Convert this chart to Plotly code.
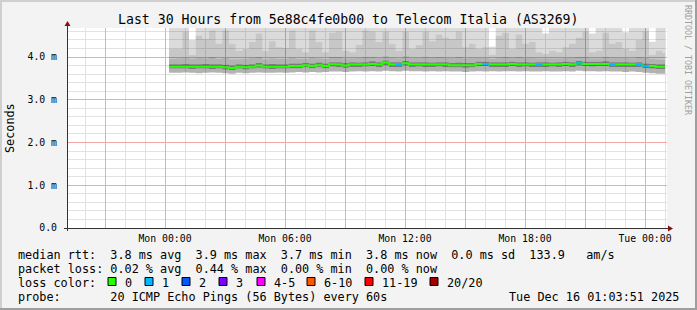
import pandas as pd
import plotly.graph_objects as go

# ---------------- data ----------------
TITLE = "Last 30 Hours from 5e88c4fe0b00 to Telecom Italia (AS3269)"
bin_start = "2025-12-15 00:12"
bin_minutes = 20
data_end = "2025-12-16 01:00"

median_ms = [3.776, 3.776, 3.776, 3.776, 3.776, 3.776, 3.776, 3.776, 3.760, 3.745,
             3.776, 3.760, 3.776, 3.800, 3.776, 3.776, 3.776, 3.776, 3.792, 3.792,
             3.808, 3.792, 3.808, 3.792, 3.830, 3.823, 3.800, 3.823, 3.823, 3.823,
             3.839, 3.823, 3.870, 3.823, 3.823, 3.854, 3.823, 3.823, 3.823, 3.823,
             3.823, 3.823, 3.808, 3.808, 3.808, 3.808, 3.839, 3.839, 3.823, 3.823,
             3.823, 3.839, 3.823, 3.823, 3.823, 3.823, 3.823, 3.823, 3.823, 3.839,
             3.823, 3.854, 3.839, 3.839, 3.839, 3.839, 3.823, 3.823, 3.823, 3.823,
             3.823, 3.792, 3.792, 3.776, 3.776]

loss_pings = [0, 0, 0, 0, 0, 0, 0, 0, 0, 0,
              0, 0, 0, 0, 0, 0, 0, 0, 0, 0,
              0, 0, 0, 0, 0, 0, 0, 0, 0, 0,
              0, 0, 0, 0, 1, 0, 0, 0, 0, 0,
              0, 0, 0, 0, 0, 0, 0, 1, 0, 0,
              0, 0, 0, 0, 0, 1, 0, 0, 0, 0,
              0, 1, 0, 0, 0, 0, 1, 0, 0, 0,
              1, 1, 0, 0, 0]

ping_min = [3.63, 3.63, 3.64, 3.63, 3.62, 3.63, 3.64, 3.63, 3.62, 3.61,
            3.63, 3.62, 3.63, 3.64, 3.63, 3.63, 3.64, 3.63, 3.64, 3.65,
            3.64, 3.65, 3.64, 3.65, 3.66, 3.66, 3.65, 3.66, 3.67, 3.66,
            3.67, 3.66, 3.68, 3.67, 3.66, 3.68, 3.67, 3.67, 3.66, 3.67,
            3.66, 3.67, 3.66, 3.66, 3.65, 3.66, 3.67, 3.66, 3.67, 3.66,
            3.67, 3.67, 3.66, 3.67, 3.66, 3.66, 3.67, 3.66, 3.66, 3.67,
            3.66, 3.68, 3.67, 3.67, 3.66, 3.67, 3.66, 3.66, 3.65, 3.66,
            3.65, 3.63, 3.62, 3.61, 3.61]

ping_dark_lo = [3.73, 3.73, 3.73, 3.72, 3.73, 3.73, 3.72, 3.73, 3.71, 3.70,
                3.73, 3.71, 3.73, 3.75, 3.73, 3.72, 3.73, 3.73, 3.74, 3.74,
                3.76, 3.74, 3.76, 3.74, 3.78, 3.77, 3.75, 3.77, 3.77, 3.78,
                3.79, 3.77, 3.81, 3.77, 3.77, 3.80, 3.77, 3.78, 3.77, 3.77,
                3.78, 3.77, 3.76, 3.76, 3.75, 3.76, 3.79, 3.79, 3.77, 3.77,
                3.77, 3.79, 3.77, 3.78, 3.77, 3.77, 3.77, 3.78, 3.77, 3.79,
                3.77, 3.80, 3.79, 3.78, 3.79, 3.79, 3.77, 3.77, 3.77, 3.77,
                3.77, 3.74, 3.73, 3.72, 3.72]

ping_dark_hi = [3.83, 3.83, 3.84, 3.83, 3.83, 3.84, 3.83, 3.83, 3.82, 3.80,
                3.83, 3.82, 3.83, 3.86, 3.83, 3.84, 3.83, 3.83, 3.85, 3.85,
                3.86, 3.85, 3.87, 3.85, 3.88, 3.88, 3.86, 3.88, 3.87, 3.88,
                3.90, 3.88, 3.92, 3.88, 3.88, 3.91, 3.88, 3.88, 3.88, 3.87,
                3.88, 3.88, 3.86, 3.87, 3.86, 3.86, 3.89, 3.89, 3.88, 3.88,
                3.88, 3.89, 3.88, 3.88, 3.87, 3.88, 3.88, 3.87, 3.88, 3.89,
                3.88, 3.91, 3.89, 3.89, 3.89, 3.90, 3.88, 3.88, 3.88, 3.87,
                3.88, 3.85, 3.84, 3.83, 3.83]

ping_p75 = [3.96, 3.97, 3.99, 3.96, 3.98, 3.97, 4.00, 3.96, 3.98, 3.95,
            3.95, 3.96, 3.98, 4.00, 3.95, 3.97, 3.96, 3.96, 3.99, 3.96,
            3.96, 3.99, 3.97, 3.96, 4.00, 4.00, 3.97, 3.97, 3.98, 4.01,
            4.01, 3.98, 4.02, 3.99, 3.97, 4.02, 3.98, 3.98, 4.01, 3.99,
            4.00, 3.99, 3.98, 4.00, 3.97, 3.98, 3.98, 3.98, 3.96, 3.99,
            4.00, 3.98, 4.00, 3.98, 3.98, 3.97, 3.97, 3.97, 3.97, 3.98,
            3.99, 4.00, 4.01, 3.97, 3.97, 4.00, 3.98, 3.98, 3.98, 3.97,
            4.00, 3.99, 3.96, 3.95, 3.94]

ping_p90 = [4.19, 4.19, 4.60, 4.05, 4.50, 4.42, 4.62, 4.31, 4.62, 4.31,
            4.15, 4.19, 4.35, 4.55, 4.15, 4.37, 4.23, 4.21, 4.62, 4.19,
            4.11, 4.62, 4.35, 4.11, 4.57, 4.60, 4.15, 4.11, 4.28, 4.62,
            4.60, 4.35, 4.60, 4.31, 4.15, 4.60, 4.19, 4.28, 4.60, 4.37,
            4.53, 4.45, 4.42, 4.60, 4.23, 4.31, 4.19, 4.23, 4.05, 4.50,
            4.57, 4.19, 4.53, 4.31, 4.35, 4.11, 4.08, 4.15, 4.11, 4.23,
            4.31, 4.45, 4.60, 4.11, 4.15, 4.57, 4.31, 4.35, 4.20, 4.15,
            4.40, 4.60, 4.05, 4.15, 4.10]

ping_max = [4.90, 4.90, 4.90, 4.40, 4.90, 4.90, 4.90, 4.90, 4.90, 4.90,
            4.90, 4.90, 4.90, 4.90, 4.90, 4.90, 4.90, 4.90, 4.90, 4.90,
            4.90, 4.90, 4.90, 4.90, 4.90, 4.90, 4.90, 4.90, 4.90, 4.90,
            4.90, 4.90, 4.90, 4.90, 4.90, 4.90, 4.90, 4.90, 4.90, 4.90,
            4.90, 4.90, 4.90, 4.90, 4.90, 4.90, 4.90, 4.90, 4.24, 4.90,
            4.90, 4.90, 4.90, 4.90, 4.90, 4.90, 4.55, 4.90, 4.90, 4.90,
            4.90, 4.90, 4.90, 4.55, 4.90, 4.90, 4.90, 4.90, 4.58, 4.90,
            4.90, 4.90, 4.36, 4.90, 4.90]

y_tick_vals = [0, 1, 2, 3, 4]
y_tick_text = ["0.0", "1.0 m", "2.0 m", "3.0 m", "4.0 m"]
y_minor_vals = [0.2, 0.4, 0.6, 0.8, 1.2, 1.4, 1.6, 1.8, 2.2, 2.4, 2.6, 2.8,
                3.2, 3.4, 3.6, 3.8, 4.2, 4.4, 4.6]
x_tick_vals = ["2025-12-14 21:00", "2025-12-15 00:00", "2025-12-15 03:00",
               "2025-12-15 06:00", "2025-12-15 09:00", "2025-12-15 12:00",
               "2025-12-15 15:00", "2025-12-15 18:00", "2025-12-15 21:00",
               "2025-12-16 00:00"]
x_tick_text = ["", "Mon 00:00", "", "Mon 06:00", "", "Mon 12:00", "",
               "Mon 18:00", "", "Tue 00:00"]

loss_labels = ["0", "1", "2", "3", "4-5", "6-10", "11-19", "20/20"]
loss_colors = ["#26ff00", "#00b8ff", "#0059ff", "#7e00ff", "#ff00ff",
               "#ff5500", "#ff0000", "#a10000"]

legend_rows = [
    "median rtt:  3.8 ms avg  3.9 ms max  3.7 ms min  3.8 ms now  0.0 ms sd  133.9   am/s",
    "packet loss: 0.02 % avg  0.44 % max  0.00 % min  0.00 % now",
    "loss color:",
    "probe:       20 ICMP Echo Pings (56 Bytes) every 60s",
]
timestamp_text = "Tue Dec 16 01:03:51 2025"

# ---------------- geometry ----------------
W, H = 697, 310
ML, MR, MT, MB = 67, 30, 28, 82
PW, PH = W - ML - MR, H - MT - MB
X_START = pd.Timestamp("2025-12-14 19:06")
X_END = pd.Timestamp("2025-12-16 01:06")
Y_MAX = 4.68
FONT = "DejaVu Sans Mono"


def xp(px):
    return (px - ML) / PW


def yp(py):
    return (H - MB - py) / PH


def step(v):
    return list(v) + [v[-1]]


edges = list(pd.date_range(bin_start, periods=len(median_ms), freq=f"{bin_minutes}min"))
edges.append(pd.Timestamp(data_end))

# hourly minor grid, skipping the 3-hourly major positions
x_minor_vals = [t for t in pd.date_range("2025-12-14 20:00", "2025-12-16 01:00", freq="1h")
                if t.hour % 3 != 0]

fig = go.Figure()

# smoke: non-overlapping translucent bands so the grid shows through (like rrdtool)
bands = [ping_min, ping_dark_lo, ping_dark_hi, ping_p75, ping_p90, ping_max]
band_alpha = [0.30, 0.52, 0.30, 0.22, 0.14]
fig.add_trace(go.Scatter(x=edges, y=step(bands[0]), mode="lines",
                         line=dict(width=0, shape="hv"), hoverinfo="skip", showlegend=False))
for upper, a in zip(bands[1:], band_alpha):
    fig.add_trace(go.Scatter(x=edges, y=step(upper), mode="lines",
                             line=dict(width=0, shape="hv"), fill="tonexty",
                             fillcolor=f"rgba(0,0,0,{a})", hoverinfo="skip", showlegend=False))

# median line coloured by loss
fig.add_trace(go.Scatter(x=edges, y=step(median_ms), mode="lines",
                         line=dict(color=loss_colors[0], width=2, shape="hv"),
                         hoverinfo="skip", showlegend=False))
for li in range(1, len(loss_colors)):
    xs, ys = [], []
    for k, (m, l) in enumerate(zip(median_ms, loss_pings)):
        if l == li:
            xs += [edges[k], edges[k + 1], None]
            ys += [m, m, None]
    if xs:
        fig.add_trace(go.Scatter(x=xs, y=ys, mode="lines",
                                 line=dict(color=loss_colors[li], width=2),
                                 hoverinfo="skip", showlegend=False))

shapes = []
# axes lines + arrows
axis_col = "#333333"
arrow_col = "#8b1010"
shapes.append(dict(type="line", xref="paper", yref="paper", x0=xp(67.5), x1=xp(67.5),
                   y0=yp(231), y1=yp(25), line=dict(color=axis_col, width=1), layer="above"))
shapes.append(dict(type="line", xref="paper", yref="paper", x0=xp(64), x1=xp(669),
                   y0=yp(228.5), y1=yp(228.5), line=dict(color=axis_col, width=1), layer="above"))
shapes.append(dict(type="path", xref="paper", yref="paper",
                   path=f"M {xp(64.5)} {yp(26)} L {xp(70.5)} {yp(26)} L {xp(67.5)} {yp(21)} Z",
                   fillcolor=arrow_col, line=dict(width=0), layer="above"))
shapes.append(dict(type="path", xref="paper", yref="paper",
                   path=f"M {xp(668)} {yp(225.5)} L {xp(668)} {yp(231.5)} L {xp(673)} {yp(228.5)} Z",
                   fillcolor=arrow_col, line=dict(width=0), layer="above"))

# image frame (shade A top/left, shade B bottom/right)
shapes.append(dict(type="line", xref="paper", yref="paper", x0=xp(0), x1=xp(W),
                   y0=yp(1), y1=yp(1), line=dict(color="#cfcfcf", width=2)))
shapes.append(dict(type="line", xref="paper", yref="paper", x0=xp(1), x1=xp(1),
                   y0=yp(0), y1=yp(H), line=dict(color="#cfcfcf", width=2)))
shapes.append(dict(type="line", xref="paper", yref="paper", x0=xp(0), x1=xp(W),
                   y0=yp(H - 1), y1=yp(H - 1), line=dict(color="#9e9e9e", width=2)))
shapes.append(dict(type="line", xref="paper", yref="paper", x0=xp(W - 1), x1=xp(W - 1),
                   y0=yp(0), y1=yp(H), line=dict(color="#9e9e9e", width=2)))

# loss colour boxes
box_x = [108, 145, 182, 219, 257, 307, 365, 430]
for bx, col in zip(box_x, loss_colors):
    shapes.append(dict(type="rect", xref="paper", yref="paper", x0=xp(bx), x1=xp(bx + 8),
                       y0=yp(285.5), y1=yp(277.5), fillcolor=col,
                       line=dict(color="#000000", width=1)))

NB = "\u00a0"
ann = []


def text(x, y, s, size, xanchor="left", angle=0, color="#000000"):
    ann.append(dict(x=xp(x), y=yp(y), xref="paper", yref="paper", text=s.replace(" ", NB),
                    showarrow=False, xanchor=xanchor, yanchor="middle", textangle=angle,
                    font=dict(family=FONT, size=size, color=color)))


text(348, 19, TITLE, 13.2, xanchor="center")
text(10, 128, "Seconds", 11.8, xanchor="center", angle=-90)
text(688, 60, "RRDTOOL / TOBI OETIKER", 8.3, xanchor="center", angle=90, color="#a0a0a0")
row_y = [255, 269, 283, 297]
for s, y in zip(legend_rows, row_y):
    text(16, y, s, 11.8)
for bx, lab in zip(box_x, loss_labels):
    text(bx + 15, 283, lab, 11.8)
text(681, 297, timestamp_text, 11.8, xanchor="right")

major_grid = "#f2a8a8"
minor_grid = "#e2e2e2"

fig.update_layout(
    width=W, height=H,
    margin=dict(l=ML, r=MR, t=MT, b=MB, pad=0),
    paper_bgcolor="#f3f3f3", plot_bgcolor="#ffffff",
    showlegend=False,
    font=dict(family=FONT, size=10, color="#000000"),
    shapes=shapes, annotations=ann,
    xaxis=dict(type="date", range=[X_START, X_END], tickmode="array",
               tickvals=x_tick_vals, ticktext=x_tick_text,
               showgrid=True, gridcolor=major_grid, gridwidth=1, griddash="solid",
               minor=dict(tickmode="array", tickvals=x_minor_vals, showgrid=True,
                          gridcolor=minor_grid, gridwidth=1, griddash="solid", ticks=""),
               zeroline=False, showline=False, ticks="",
               ticklabelstandoff=3,
               tickfont=dict(family=FONT, size=9.8, color="#000000"), fixedrange=True),
    yaxis=dict(range=[0, Y_MAX], tickmode="array", tickvals=y_tick_vals, ticktext=y_tick_text,
               showgrid=True, gridcolor=major_grid, gridwidth=1, griddash="solid",
               minor=dict(tickmode="array", tickvals=y_minor_vals, showgrid=True,
                          gridcolor=minor_grid, gridwidth=1, griddash="solid", ticks=""),
               zeroline=False, showline=False, ticks="",
               ticklabelstandoff=9,
               tickfont=dict(family=FONT, size=9.8, color="#000000"), fixedrange=True),
)

fig.write_html("out.html")
